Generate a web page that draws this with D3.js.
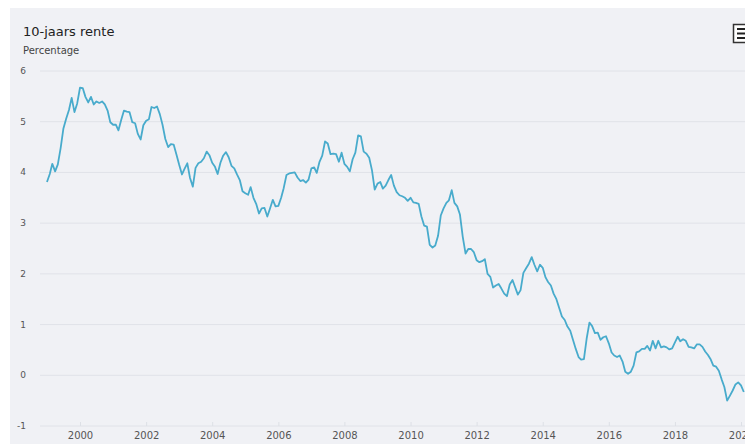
<!DOCTYPE html>
<html lang="nl">
  <head>
    <meta charset="UTF-8" />
    <title>10-jaars rente</title>
    <style>
      body { margin: 0; background: #fff; }
      text { font-family: "DejaVu Sans", Verdana, sans-serif; }
    </style>
  </head>
  <body>
    <svg></svg>
    <script src="https://d3js.org/d3.v7.min.js"></script>
    <script>
      // data: monthly 10-year rate (%), starting Jan 1999
      const startYear = 1999;
      const rente = [
        3.81, 3.97, 4.17, 4.02, 4.16, 4.48, 4.86, 5.06, 5.23, 5.47, 5.19, 5.36, // 1999
        5.67, 5.66, 5.49, 5.38, 5.49, 5.34, 5.40, 5.37, 5.40, 5.34, 5.22, 4.99, // 2000
        4.94, 4.94, 4.83, 5.04, 5.22, 5.20, 5.19, 4.99, 4.97, 4.76, 4.65, 4.93, // 2001
        5.02, 5.05, 5.29, 5.27, 5.30, 5.15, 4.94, 4.66, 4.50, 4.56, 4.55, 4.36, // 2002
        4.15, 3.96, 4.07, 4.18, 3.89, 3.72, 4.09, 4.18, 4.21, 4.28, 4.41, 4.34, // 2003
        4.19, 4.11, 3.97, 4.19, 4.33, 4.40, 4.30, 4.13, 4.08, 3.96, 3.85, 3.63, // 2004
        3.59, 3.56, 3.71, 3.50, 3.38, 3.19, 3.29, 3.30, 3.13, 3.29, 3.46, 3.33, // 2005
        3.34, 3.50, 3.69, 3.95, 3.98, 3.99, 4.00, 3.90, 3.83, 3.85, 3.80, 3.86, // 2006
        4.08, 4.10, 3.99, 4.21, 4.33, 4.61, 4.57, 4.36, 4.37, 4.36, 4.21, 4.39, // 2007
        4.17, 4.11, 4.02, 4.26, 4.39, 4.73, 4.71, 4.41, 4.37, 4.29, 4.04, 3.66, // 2008
        3.78, 3.81, 3.68, 3.74, 3.85, 3.95, 3.74, 3.61, 3.55, 3.53, 3.50, 3.44, // 2009
        3.50, 3.41, 3.40, 3.38, 3.13, 2.95, 2.93, 2.57, 2.52, 2.56, 2.75, 3.15, // 2010
        3.29, 3.40, 3.45, 3.65, 3.40, 3.33, 3.17, 2.73, 2.40, 2.49, 2.49, 2.43, // 2011
        2.27, 2.23, 2.25, 2.29, 2.00, 1.94, 1.73, 1.77, 1.80, 1.71, 1.61, 1.56, // 2012
        1.79, 1.88, 1.74, 1.59, 1.68, 2.02, 2.11, 2.20, 2.33, 2.18, 2.05, 2.18, // 2013
        2.12, 1.93, 1.84, 1.77, 1.61, 1.50, 1.33, 1.16, 1.09, 0.96, 0.88, 0.70, // 2014
        0.52, 0.36, 0.31, 0.32, 0.72, 1.04, 0.97, 0.83, 0.84, 0.70, 0.75, 0.77, // 2015
        0.63, 0.45, 0.39, 0.36, 0.39, 0.27, 0.07, 0.03, 0.07, 0.19, 0.45, 0.47, // 2016
        0.52, 0.52, 0.58, 0.49, 0.68, 0.53, 0.68, 0.55, 0.57, 0.55, 0.51, 0.53, // 2017
        0.65, 0.76, 0.67, 0.71, 0.68, 0.56, 0.55, 0.53, 0.61, 0.61, 0.56, 0.47, // 2018
        0.40, 0.31, 0.19, 0.17, 0.09, -0.08, -0.23, -0.50, -0.40, -0.30, -0.18, -0.14, // 2019
        -0.20, -0.33 // 2020
      ];
      const yTicks = [-1, 0, 1, 2, 3, 4, 5, 6];
      const xTickYears = [2000, 2002, 2004, 2006, 2008, 2010, 2012, 2014, 2016, 2018, 2020];

      const width = 745;
      const height = 444;
      const svg = d3.select("svg").attr("width", width).attr("height", height);

      // panel background
      svg.append("rect")
        .attr("x", 10).attr("y", 8)
        .attr("width", width - 10).attr("height", height - 8)
        .attr("fill", "#f0f1f5");

      const x = d3.scaleTime()
        .domain([new Date(2000, 0, 1), new Date(2020, 0, 1)])
        .range([80, 741]);
      const y = d3.scaleLinear().domain([-1, 6]).range([426, 71]);

      // grid lines
      svg.append("g")
        .selectAll("line")
        .data(yTicks)
        .join("line")
        .attr("x1", 40).attr("x2", width)
        .attr("y1", d => y(d)).attr("y2", d => y(d))
        .attr("stroke", "#e0e2e8")
        .attr("stroke-width", 1);

      // y labels
      svg.append("g")
        .selectAll("text")
        .data(yTicks)
        .join("text")
        .attr("x", 26)
        .attr("y", d => y(d) + 3)
        .attr("text-anchor", "end")
        .attr("font-size", "9px")
        .attr("fill", "#555")
        .text(d => d);

      // x axis
      const xAxis = d3.axisBottom(x)
        .tickValues(xTickYears.map(d => new Date(d, 0, 1)))
        .tickFormat(d3.timeFormat("%Y"))
        .tickSize(4)
        .tickSizeOuter(0);
      const gx = svg.append("g").attr("transform", "translate(0,426)").call(xAxis);
      gx.select(".domain").remove();
      gx.selectAll("line").attr("stroke", "#dde0e6").attr("transform", "translate(0,-4)");
      gx.selectAll("text")
        .attr("fill", "#555")
        .attr("font-size", "10px")
        .attr("font-family", "DejaVu Sans, Verdana, sans-serif")
        .attr("dy", "0.55em");

      // line
      const points = rente.map((v, i) => ({ date: new Date(startYear, i, 1), value: v }));
      const line = d3.line().x(d => x(d.date)).y(d => y(d.value));
      svg.append("path")
        .datum(points)
        .attr("d", line)
        .attr("fill", "none")
        .attr("stroke", "#48abcc")
        .attr("stroke-width", 1.8)
        .attr("stroke-linejoin", "round");

      // title
      svg.append("text")
        .attr("x", 23).attr("y", 36)
        .attr("font-size", "13px")
        .attr("fill", "#222")
        .text("10-jaars rente");
      svg.append("text")
        .attr("x", 23).attr("y", 54)
        .attr("font-size", "10px")
        .attr("fill", "#444")
        .text("Percentage");

      // menu button (cut off at the right edge)
      svg.append("rect")
        .attr("x", 733.5).attr("y", 24.5)
        .attr("width", 16).attr("height", 18)
        .attr("fill", "#fff")
        .attr("stroke", "#333")
        .attr("stroke-width", 1.5);
      [29, 33.5, 38].forEach(yy => {
        svg.append("line")
          .attr("x1", 737).attr("x2", 750)
          .attr("y1", yy).attr("y2", yy)
          .attr("stroke", "#222")
          .attr("stroke-width", 2);
      });
    </script>
  </body>
</html>
